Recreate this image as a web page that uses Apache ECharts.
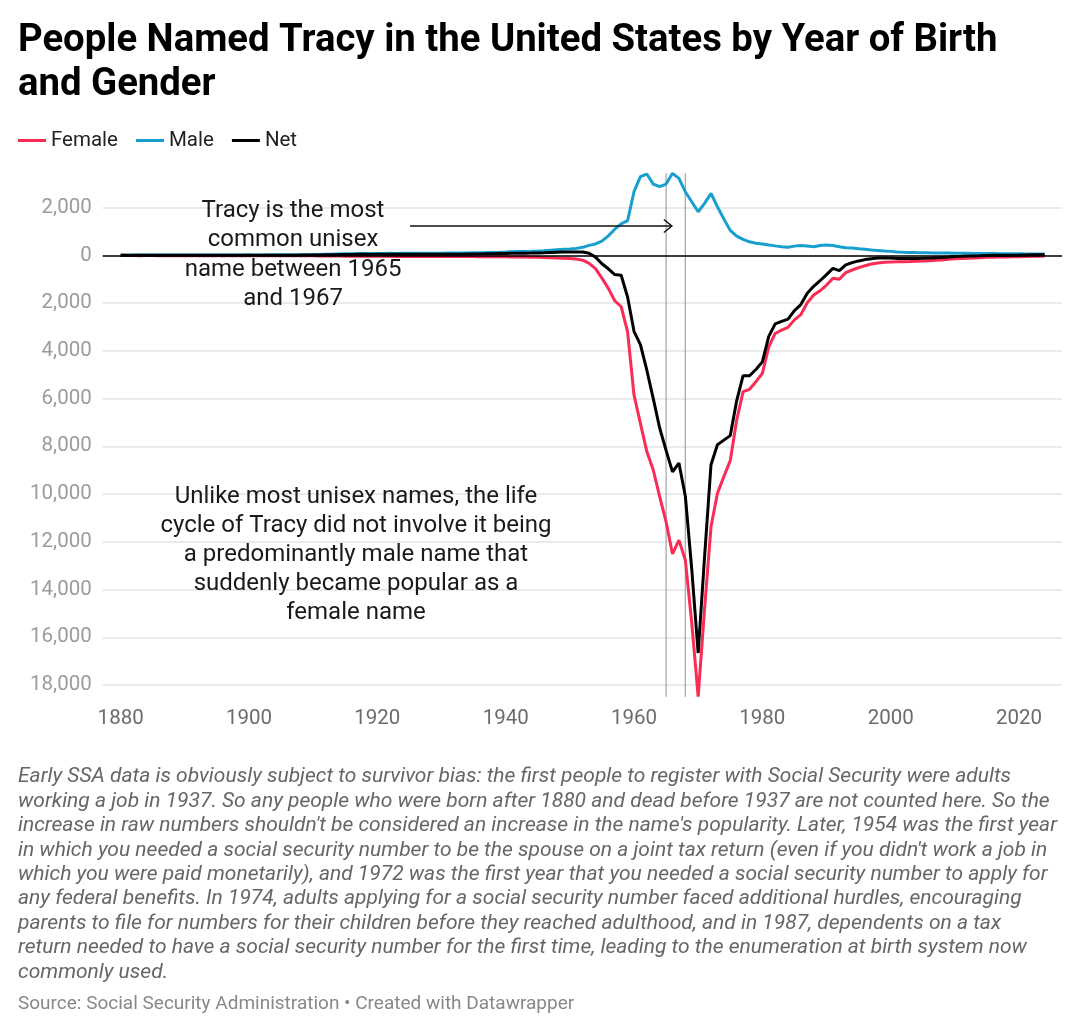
<!DOCTYPE html>
<html>
<head>
<meta charset="utf-8">
<script src="https://cdn.jsdelivr.net/npm/echarts@6/dist/echarts.min.js"></script>
<style>
html,body{margin:0;padding:0;background:#fff;}
#chart{width:1080px;height:1034px;}
</style>
</head>
<body>
<div id="chart"></div>
<script>
const startYear = 1880;
const female = [
  8, 6, 7, 9, 8, 7, 9, 10, 8, 9,
  10, 9, 11, 10, 12, 11, 10, 12, 13, 12,
  14, 12, 13, 15, 14, 16, 15, 17, 18, 17,
  18, 20, 24, 26, 28, 30, 32, 30, 33, 34,
  35, 36, 38, 40, 38, 40, 42, 41, 43, 44,
  45, 44, 46, 48, 47, 50, 52, 51, 54, 55,
  58, 62, 66, 70, 75, 80, 92, 100, 108, 115,
  130, 150, 200, 330, 550, 950, 1380, 1900, 2150, 3200,
  5850, 7040, 8220, 8990, 10110, 11160, 12510, 11930, 12760, 15400,
  18490, 14800, 11370, 9970, 9270, 8600, 6900, 5710, 5610, 5290,
  4940, 3830, 3270, 3130, 3010, 2700, 2480, 1980, 1660, 1480,
  1240, 960, 1000, 720, 610, 510, 430, 360, 320, 290,
  276, 270, 262, 255, 245, 237, 220, 205, 190, 165,
  137, 125, 115, 105, 95, 80, 75, 70, 62, 58,
  53, 45, 38, 32, 25
];
const male = [
  14, 12, 13, 15, 14, 13, 16, 14, 17, 15,
  16, 15, 18, 17, 16, 19, 18, 20, 21, 20,
  24, 21, 23, 25, 24, 27, 26, 29, 31, 33,
  36, 40, 52, 56, 62, 70, 73, 76, 80, 78,
  82, 85, 88, 86, 90, 88, 92, 95, 92, 94,
  96, 98, 100, 99, 105, 110, 115, 120, 126, 132,
  140, 150, 160, 165, 172, 185, 200, 220, 240, 255,
  270, 295, 340, 420, 480, 600, 820, 1100, 1320, 1460,
  2670, 3300, 3410, 2990, 2880, 2990, 3440, 3230, 2670, 2250,
  1830, 2180, 2600, 2040, 1530, 1050, 810, 670, 570, 510,
  480, 440, 400, 365, 340, 390, 420, 395, 365, 420,
  435, 420, 365, 325, 310, 280, 255, 225, 210, 185,
  170, 145, 130, 125, 118, 115, 108, 105, 100, 98,
  95, 90, 88, 85, 82, 80, 78, 75, 72, 70,
  68, 65, 62, 60, 58
];
const net = [
  6, 6, 6, 6, 6, 6, 7, 4, 9, 6,
  6, 6, 7, 7, 4, 8, 8, 8, 8, 8,
  10, 9, 10, 10, 10, 11, 11, 12, 13, 16,
  18, 20, 28, 30, 34, 40, 41, 46, 47, 44,
  47, 49, 50, 46, 52, 48, 50, 54, 49, 50,
  51, 54, 54, 51, 58, 60, 63, 69, 72, 77,
  82, 88, 94, 95, 97, 105, 108, 120, 132, 140,
  140, 145, 140, 90, -70, -350, -560, -800, -830, -1740,
  -3180, -3740, -4810, -6000, -7230, -8170, -9070, -8700, -10090, -13150,
  -16660, -12620, -8770, -7930, -7740, -7550, -6090, -5040, -5040, -4780,
  -4460, -3390, -2870, -2765, -2670, -2310, -2060, -1585, -1295, -1060,
  -805, -540, -635, -395, -300, -230, -175, -135, -110, -105,
  -106, -125, -132, -130, -127, -122, -112, -100, -90, -67,
  -42, -35, -27, -20, -13, 0, 3, 5, 10, 12,
  15, 20, 24, 28, 33
];
const xTickLabels = [1880, 1900, 1920, 1940, 1960, 1980, 2000, 2020];
const highlightYears = [1965, 1968];
const seriesNames = ['Female', 'Male', 'Net'];

const years = female.map((_, i) => startYear + i);
const femaleData = years.map((y, i) => [y, -female[i]]);
const maleData = years.map((y, i) => [y, male[i]]);
const netData = years.map((y, i) => [y, net[i]]);
const topVal = Math.max(...male);
const botVal = -Math.max(...female);

const COLORS = { Female: '#fa2b54', Male: '#199fcf', Net: '#000000' };
const FONT = 'Roboto';

const chart = echarts.init(document.getElementById('chart'), null, { renderer: 'canvas' });

const vSeries = highlightYears.map(yr => ({
  type: 'line', name: 'hl' + yr, data: [[yr, topVal], [yr, botVal]],
  symbol: 'none', clip: false, silent: true,
  lineStyle: { color: '#a9a9a9', width: 1.3 }, z: 1
}));

const option = {
  animation: false,
  backgroundColor: '#ffffff',
  textStyle: { fontFamily: FONT },
  title: {
    text: 'People Named Tracy in the United States by Year of Birth\nand Gender',
    left: 13, top: 14,
    textStyle: { fontFamily: FONT, fontSize: 38.3, fontWeight: 'bold', color: '#000', lineHeight: 44 }
  },
  legend: {
    left: 13, top: 125, icon: 'rect', itemWidth: 28, itemHeight: 3, itemGap: 18,
    data: seriesNames,
    textStyle: { fontFamily: FONT, fontSize: 20.5, color: '#222' }
  },
  grid: { left: 102.7, right: 18, top: 207.7, bottom: 349, containLabel: false },
  xAxis: {
    type: 'value', min: 1877.2, max: 2026.7,
    axisLine: { show: false }, axisTick: { show: false }, splitLine: { show: false },
    axisLabel: { customValues: xTickLabels, color: '#6b6b6b', fontSize: 20.5, margin: 23, fontFamily: FONT,
      formatter: v => String(v) }
  },
  yAxis: {
    type: 'value', min: -18000, max: 2000, interval: 2000,
    axisLine: { show: false }, axisTick: { show: false },
    splitLine: { lineStyle: { color: '#e3e3e3', width: 1.5 } },
    axisLabel: {
      color: '#9b9b9b', fontSize: 20.5, margin: 11, fontFamily: FONT,
      formatter: v => Math.abs(v).toLocaleString('en-US')
    }
  },
  series: [
    ...vSeries,
    { type: 'line', name: 'Male', data: maleData, symbol: 'none', clip: false,
      lineStyle: { color: COLORS.Male, width: 3 }, itemStyle: { color: COLORS.Male }, z: 3 },
    { type: 'line', name: 'Female', data: femaleData, symbol: 'none', clip: false,
      lineStyle: { color: COLORS.Female, width: 3 }, itemStyle: { color: COLORS.Female }, z: 3 },
    { type: 'line', name: 'Net', data: netData, symbol: 'none', clip: false,
      lineStyle: { color: COLORS.Net, width: 3 }, itemStyle: { color: COLORS.Net }, z: 4,
      markLine: {
        silent: true, symbol: 'none', label: { show: false },
        lineStyle: { color: '#000', width: 1.6, type: 'solid' },
        data: [{ yAxis: 0 }]
      }
    }
  ]
};
chart.setOption(option);

// annotation arrow in data coordinates
const arrowFrom = [1925.1, 1232];
const arrowTo = [1965.9, 1232];
const p1 = chart.convertToPixel({ gridIndex: 0 }, arrowFrom);
const p2 = chart.convertToPixel({ gridIndex: 0 }, arrowTo);

chart.setOption({
  graphic: [
    { type: 'line', shape: { x1: p1[0], y1: p1[1], x2: p2[0], y2: p2[1] },
      style: { stroke: '#111', lineWidth: 1.5 }, z: 10 },
    { type: 'polyline', shape: { points: [[p2[0] - 8, p2[1] - 6.5], [p2[0], p2[1]], [p2[0] - 8, p2[1] + 6.5]] },
      style: { stroke: '#111', lineWidth: 1.5, fill: null }, z: 10 },
    { type: 'text', z: 10, style: {
        x: 293, y: 196, align: 'center', verticalAlign: 'top',
        text: 'Tracy is the most\ncommon unisex\nname between 1965\nand 1967',
        fontFamily: FONT, fontSize: 24, lineHeight: 29.5, fill: '#1a1a1a' } },
    { type: 'text', z: 10, style: {
        x: 356, y: 482.5, align: 'center', verticalAlign: 'top',
        text: 'Unlike most unisex names, the life\ncycle of Tracy did not involve it being\na predominantly male name that\nsuddenly became popular as a\nfemale name',
        fontFamily: FONT, fontSize: 24, lineHeight: 29, fill: '#1a1a1a' } },
    { type: 'text', z: 10, style: {
        x: 18, y: 765, align: 'left', verticalAlign: 'top',
        text: "Early SSA data is obviously subject to survivor bias: the first people to register with Social Security were adults\n" +
              "working a job in 1937. So any people who were born after 1880 and dead before 1937 are not counted here. So the\n" +
              "increase in raw numbers shouldn't be considered an increase in the name's popularity. Later, 1954 was the first year\n" +
              "in which you needed a social security number to be the spouse on a joint tax return (even if you didn't work a job in\n" +
              "which you were paid monetarily), and 1972 was the first year that you needed a social security number to apply for\n" +
              "any federal benefits. In 1974, adults applying for a social security number faced additional hurdles, encouraging\n" +
              "parents to file for numbers for their children before they reached adulthood, and in 1987, dependents on a tax\n" +
              "return needed to have a social security number for the first time, leading to the enumeration at birth system now\n" +
              "commonly used.",
        fontFamily: FONT, fontSize: 21, fontStyle: 'italic', lineHeight: 24.4, fill: '#666666' } },
    { type: 'text', z: 10, style: {
        x: 18, y: 1004, align: 'left', verticalAlign: 'middle',
        text: 'Source: Social Security Administration • Created with Datawrapper',
        fontFamily: FONT, fontSize: 19, fill: '#888888' } }
  ]
});
</script>
</body>
</html>
